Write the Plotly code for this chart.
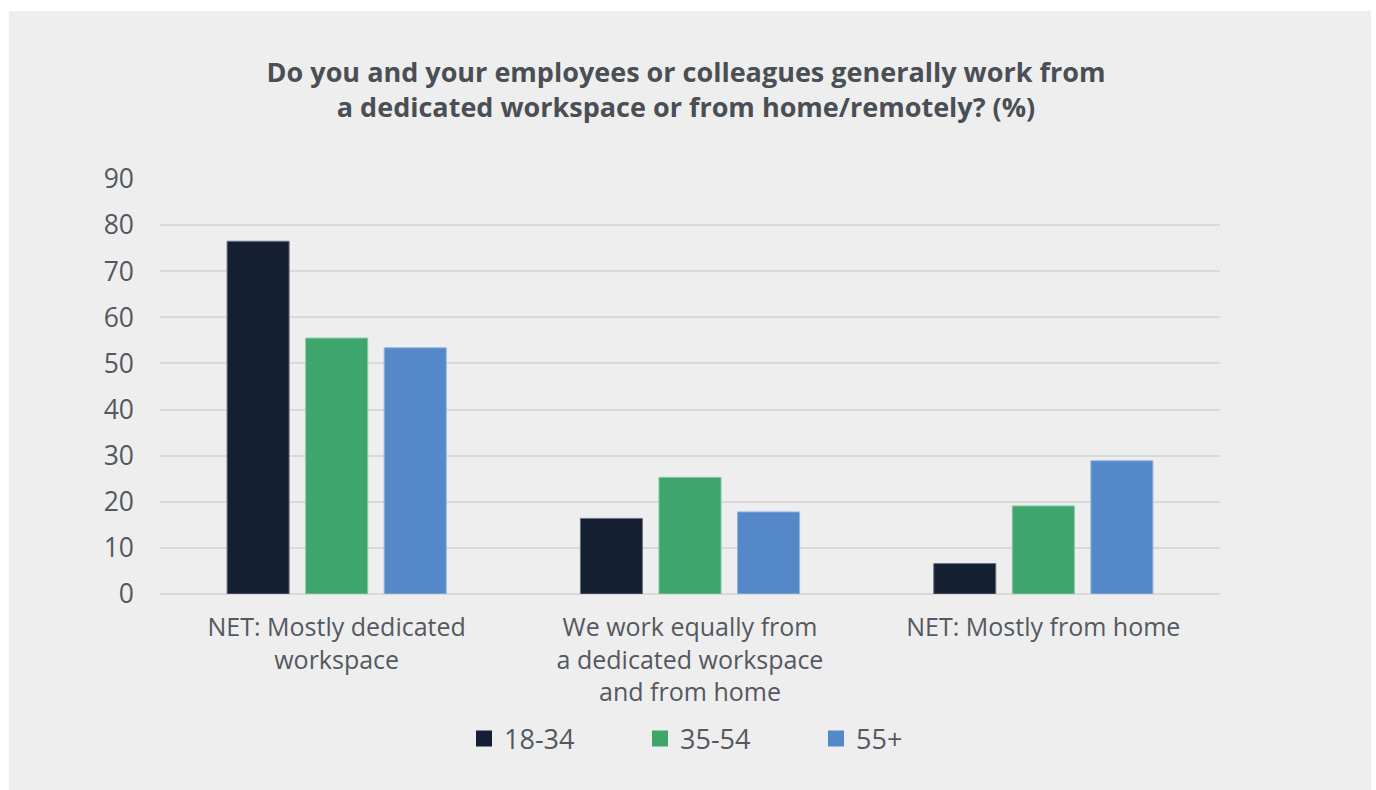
import plotly.graph_objects as go

# Survey answers by age band (%)
categories = [
    "NET: Mostly dedicated<br>workspace",
    "We work equally from<br>a dedicated workspace<br>and from home",
    "NET: Mostly from home",
]
age_groups = ["18-34", "35-54", "55+"]
values_18_34 = [76.5, 16.4, 6.6]
values_35_54 = [55.5, 25.3, 19.1]
values_55_plus = [53.4, 17.8, 28.9]
y_ticks = [0, 10, 20, 30, 40, 50, 60, 70, 80, 90]

series = [values_18_34, values_35_54, values_55_plus]
fills = ["#141f31", "#3ea66c", "#5588c8"]
edges = ["#6b7382", "#86c9a2", "#93b6e2"]

W, H = 1376, 790
L, R, T, B = 160, 156, 179, 196
plot_w, plot_h = W - L - R, H - T - B

TEXT = "#54585f"
FONT = "Open Sans"

fig = go.Figure()
for name, vals, fill, edge in zip(age_groups, series, fills, edges):
    fig.add_trace(go.Bar(
        x=categories, y=vals, name=name, showlegend=False,
        marker=dict(color=fill, line=dict(color=edge, width=1)),
        hoverinfo="y+name",
    ))
    # legend swatch with a larger square than the default bar icon
    fig.add_trace(go.Scatter(
        x=[None], y=[None], mode="markers", name=name,
        marker=dict(symbol="square", size=17, color=fill),
    ))


def px_x(x):
    return (x - L) / plot_w


def px_y(y):
    return (H - B - y) / plot_h


# grey card behind the chart, inset from the page edge
fig.add_shape(type="rect", xref="paper", yref="paper",
              x0=px_x(9), x1=px_x(1371), y0=px_y(795), y1=px_y(11),
              fillcolor="#eeeeee", line=dict(width=0), layer="below")

fig.update_layout(
    width=W, height=H,
    margin=dict(l=L, r=R, t=T, b=B),
    paper_bgcolor="white",
    plot_bgcolor="rgba(0,0,0,0)",
    barmode="group", bargap=0.333, bargroupgap=0.21,
    title=dict(
        text="Do you and your employees or colleagues generally work from<br>"
             "a dedicated workspace or from home/remotely? (%)",
        x=px_x(686), xref="paper", xanchor="center",
        y=1 - 82 / H, yref="container", yanchor="middle",
        font=dict(family="Open Sans", size=27, color="#4a4e55", weight="bold"),
    ),
    font=dict(family=FONT, size=24, color=TEXT),
    legend=dict(
        orientation="h", x=px_x(728), xanchor="center",
        y=px_y(739), yanchor="middle",
        font=dict(family=FONT, size=27, color=TEXT),
        entrywidth=131, entrywidthmode="pixels",
        bgcolor="rgba(0,0,0,0)", itemsizing="trace",
    ),
    xaxis=dict(
        showgrid=False, showline=False, zeroline=False, ticks="",
        tickfont=dict(family=FONT, size=25, color=TEXT),
        ticklabelstandoff=16,
    ),
    yaxis=dict(
        range=[0, 90], tickvals=y_ticks, ticktext=[str(v) for v in y_ticks],
        showgrid=True, gridcolor="#d9d9d9", gridwidth=1.5,
        zeroline=True, zerolinecolor="#d9d9d9", zerolinewidth=1.5,
        showline=False, ticks="",
        tickfont=dict(family=FONT, size=26.5, color=TEXT),
        ticklabelstandoff=25,
    ),
)

fig.write_html("out.html")
